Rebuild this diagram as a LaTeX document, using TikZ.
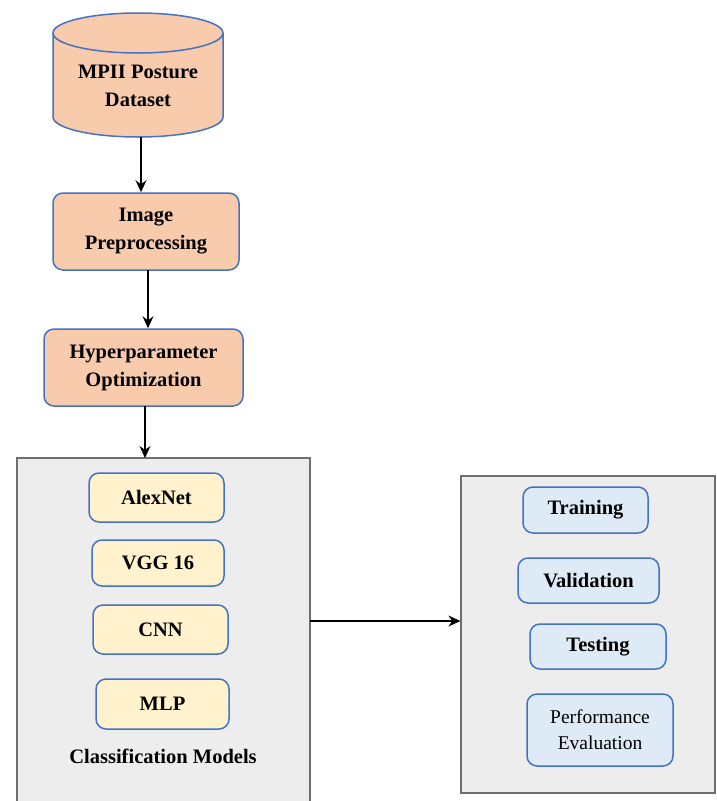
\documentclass[tikz,border=0pt]{standalone}
\usepackage{fontspec}
\setmainfont{Liberation Serif}
\usetikzlibrary{arrows.meta}
\definecolor{peach}{HTML}{F8CBAD}
\definecolor{bblue}{HTML}{4472C4}
\definecolor{lyellow}{HTML}{FFF2CC}
\definecolor{lblue}{HTML}{DEEBF7}
\definecolor{panel}{HTML}{EDEDED}
\definecolor{panelborder}{HTML}{6F6F6F}
\tikzset{
  flowbox/.style={draw=bblue, line width=1.5pt, rounded corners=10pt, align=center, inner sep=0pt, font=\fontsize{20.5}{28}\selectfont\bfseries},
  orangebox/.style={flowbox, fill=peach},
  yellowbox/.style={flowbox, fill=lyellow},
  bluebox/.style={flowbox, fill=lblue},
  panelbox/.style={draw=panelborder, fill=panel, line width=1.2pt},
  arr/.style={-{Stealth[length=12pt,width=11pt]}, line width=1.3pt, black},
}
\begin{document}
\begin{tikzpicture}[x=1pt,y=-1pt]
\useasboundingbox (0,0) rectangle (716,801);
% cylinder
\fill[peach] (53,33) -- (53,117) arc[start angle=180,end angle=0,x radius=85,y radius=20] -- (223,33) -- cycle;
\fill[peach] (138,33) ellipse[x radius=85,y radius=20];
\draw[bblue,line width=1.5pt] (53,33) -- (53,117) arc[start angle=180,end angle=0,x radius=85,y radius=20] -- (223,33);
\draw[bblue,line width=1.5pt] (138,33) ellipse[x radius=85,y radius=20];
\node[align=center, font=\fontsize{20.5}{28}\selectfont\bfseries] (mpii) at (138,86) {MPII Posture\\Dataset};
\coordinate (cylbot) at (141,137);
% flow boxes
\node[orangebox, minimum width=186pt, minimum height=77pt] (img) at (146,231.5) {Image\\Preprocessing};
\node[orangebox, minimum width=199pt, minimum height=77pt] (hyp) at (143.5,367.5) {Hyperparameter\\Optimization};
% panels
\draw[panelbox] (17,830) -- (17,458) -- (310,458) -- (310,830);
\fill[panel] (18,459) rectangle (309,830);
\node[panelbox, minimum width=254pt, minimum height=317pt, inner sep=0pt] (eval) at (588,634.5) {};
% model boxes
\node[yellowbox, minimum width=135pt, minimum height=49pt] (alex) at (156.5,497.5) {AlexNet};
\node[yellowbox, minimum width=132pt, minimum height=46pt] (vgg) at (158,563) {VGG 16};
\node[yellowbox, minimum width=135pt, minimum height=49pt] (cnn) at (160.5,629.5) {CNN};
\node[yellowbox, minimum width=133pt, minimum height=50pt] (mlp) at (162.5,704) {MLP};
\node[font=\fontsize{20.5}{24}\selectfont\bfseries] (cls) at (163,756) {Classification Models};
% evaluation boxes
\node[bluebox, minimum width=125pt, minimum height=46pt] (train) at (585.5,510) {Training};
\node[bluebox, minimum width=141pt, minimum height=45pt] (val) at (588.5,580.5) {Validation};
\node[bluebox, minimum width=136pt, minimum height=45pt] (test) at (598,646.5) {Testing};
\node[bluebox, minimum width=146pt, minimum height=72pt, font=\fontsize{19.5}{26}\selectfont] (perf) at (600,730) {Performance\\Evaluation};
% connectors
\draw[arr] (cylbot) -- (img.north -| cylbot);
\coordinate (a2) at (148,270);
\draw[arr] (a2) -- (hyp.north -| a2);
\coordinate (a3) at (145,406);
\coordinate (a3e) at (145,458);
\draw[arr] (a3) -- (a3e);
\coordinate (c1) at (310,621);
\draw[arr] (c1) -- (eval.west |- c1);
\end{tikzpicture}
\end{document}
